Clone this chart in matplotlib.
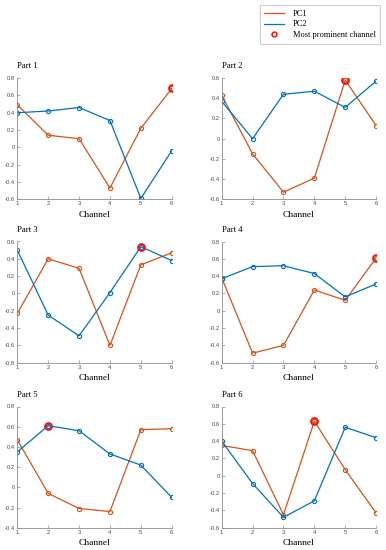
"""
plot.py

Loadings of the first two principal components per channel,
one panel per part, with the most prominent channel circled.
"""

import matplotlib
matplotlib.use("Agg")
import matplotlib.pyplot as plt
from matplotlib.lines import Line2D


# ------------------------------------------------------
# Data
# ------------------------------------------------------

CHANNELS = [1, 2, 3, 4, 5, 6]

PARTS = ["Part 1", "Part 2", "Part 3", "Part 4", "Part 5", "Part 6"]

PC1 = [
    [0.49, 0.14, 0.10, -0.47, 0.22, 0.68],
    [0.43, -0.15, -0.53, -0.39, 0.58, 0.13],
    [-0.23, 0.40, 0.29, -0.60, 0.33, 0.47],
    [0.38, -0.49, -0.40, 0.24, 0.12, 0.61],
    [0.47, -0.06, -0.21, -0.24, 0.57, 0.58],
    [0.35, 0.29, -0.45, 0.63, 0.07, -0.43],
]

PC2 = [
    [0.40, 0.42, 0.46, 0.31, -0.59, -0.04],
    [0.37, 0.00, 0.44, 0.47, 0.31, 0.57],
    [0.50, -0.25, -0.49, 0.01, 0.54, 0.38],
    [0.37, 0.51, 0.52, 0.43, 0.16, 0.31],
    [0.35, 0.61, 0.56, 0.33, 0.22, -0.10],
    [0.40, -0.09, -0.48, -0.29, 0.56, 0.44],
]

# which component (1 or 2) and channel holds the largest loading
PROMINENT = [(1, 6), (1, 5), (2, 5), (1, 6), (2, 2), (1, 4)]

Y_LIMITS = [
    (-0.6, 0.8),
    (-0.6, 0.6),
    (-0.8, 0.6),
    (-0.6, 0.8),
    (-0.4, 0.8),
    (-0.6, 0.8),
]


# ------------------------------------------------------
# Style
# ------------------------------------------------------

ORANGE = "#D95319"
BLUE = "#0072BD"
RED = "#FF1010"

SERIF = ["Liberation Serif", "DejaVu Serif"]
SANS = ["Liberation Sans", "DejaVu Sans"]

LEFT_COLUMN = 17.3 / 386
RIGHT_COLUMN = 221.7 / 386
WIDTH = 154.4 / 386
HEIGHT = 121.2 / 550
ROWS = [350.7 / 550, 187.3 / 550, 22.3 / 550]


def tick_text(value):

    text = f"{value:.1f}".rstrip("0").rstrip(".")

    if text in ("-0", ""):
        text = "0"

    return text


def draw_part(fig, index):

    column = LEFT_COLUMN if index % 2 == 0 else RIGHT_COLUMN
    bottom = ROWS[index // 2]

    ax = fig.add_axes([column, bottom, WIDTH, HEIGHT])

    ax.plot(
        CHANNELS,
        PC1[index],
        color=ORANGE,
        linewidth=0.9,
        marker="o",
        markersize=3,
        markerfacecolor="none",
        markeredgewidth=0.8
    )

    ax.plot(
        CHANNELS,
        PC2[index],
        color=BLUE,
        linewidth=0.9,
        marker="o",
        markersize=3,
        markerfacecolor="none",
        markeredgewidth=0.8
    )

    component, channel = PROMINENT[index]
    values = PC1[index] if component == 1 else PC2[index]

    ax.plot(
        channel,
        values[CHANNELS.index(channel)],
        linestyle="none",
        marker="o",
        markersize=5,
        markerfacecolor="none",
        markeredgecolor=RED,
        markeredgewidth=1.3
    )

    low, high = Y_LIMITS[index]
    steps = int(round((high - low) / 0.2))
    ticks = [round(low + 0.2 * i, 1) for i in range(steps + 1)]

    ax.set_xlim(1, 6)
    ax.set_ylim(low, high)
    ax.set_xticks(CHANNELS)
    ax.set_yticks(ticks)
    ax.set_yticklabels([tick_text(t) for t in ticks])

    for side in ("top", "right"):
        ax.spines[side].set_visible(False)

    for side in ("left", "bottom"):
        ax.spines[side].set_color("0.55")
        ax.spines[side].set_linewidth(0.6)

    ax.tick_params(
        direction="in",
        length=2,
        width=0.5,
        color="0.55",
        labelsize=4.2,
        labelcolor="0.3",
        pad=1.5
    )

    for label in ax.get_xticklabels() + ax.get_yticklabels():
        label.set_family(SANS)

    ax.set_title(
        PARTS[index],
        loc="left",
        family=SERIF,
        fontsize=6.2,
        pad=7
    )

    ax.set_xlabel(
        "Channel",
        family=SERIF,
        fontsize=6.8,
        labelpad=3
    )


def draw_legend(fig):

    handles = [
        Line2D([], [], color=ORANGE, linewidth=0.9),
        Line2D([], [], color=BLUE, linewidth=0.9),
        Line2D(
            [], [],
            linestyle="none",
            marker="o",
            markersize=3.5,
            markerfacecolor="none",
            markeredgecolor=RED,
            markeredgewidth=1.1
        ),
    ]

    legend = fig.legend(
        handles,
        ["PC1", "PC2", "Most prominent channel"],
        loc="upper right",
        bbox_to_anchor=(0.985, 0.991),
        prop={"family": SERIF, "size": 6},
        frameon=True,
        fancybox=False,
        handlelength=2.4,
        handletextpad=1.0,
        labelspacing=0.35,
        borderpad=0.55,
        borderaxespad=0
    )

    legend.get_frame().set_edgecolor("0.7")
    legend.get_frame().set_linewidth(0.6)


# ------------------------------------------------------
# Main
# ------------------------------------------------------

def main():

    fig = plt.figure(figsize=(3.86, 5.5), dpi=100)

    for index in range(len(PARTS)):
        draw_part(fig, index)

    draw_legend(fig)

    fig.savefig("out.png", dpi=100)

    plt.close(fig)


if __name__ == "__main__":

    main()
